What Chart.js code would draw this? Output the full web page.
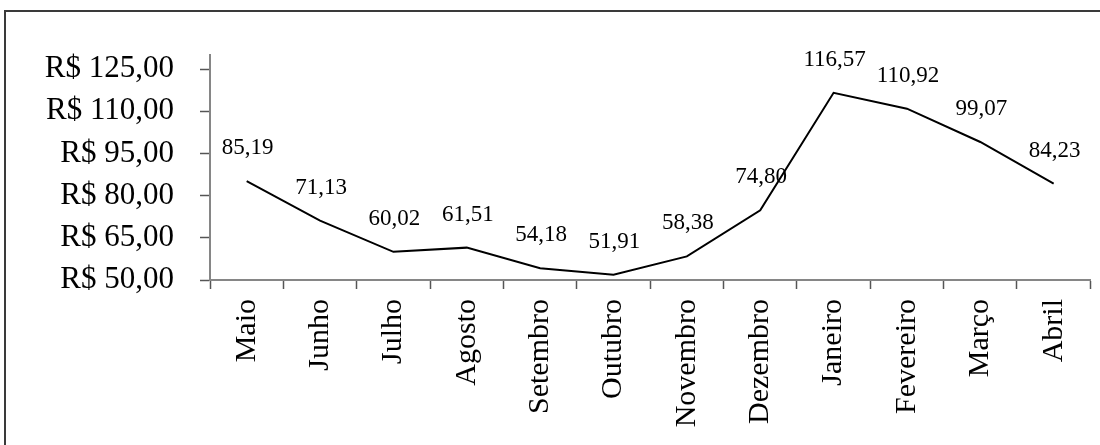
<!DOCTYPE html>
<html lang="pt-BR">
<head>
<meta charset="utf-8">
<title>Preço médio mensal</title>
<script src="https://cdn.jsdelivr.net/npm/chart.js@4.4.1/dist/chart.umd.min.js"></script>
<style>
  html, body { margin: 0; padding: 0; background: #fff; }
  #wrap { width: 1100px; height: 445px; position: relative; overflow: hidden; }
  canvas { display: block; }
</style>
</head>
<body>
<div id="wrap"><canvas id="chart" width="1100" height="445"></canvas></div>
<script>
// Meses do período
const months = ['Maio', 'Junho', 'Julho', 'Agosto', 'Setembro', 'Outubro',
                'Novembro', 'Dezembro', 'Janeiro', 'Fevereiro', 'Março', 'Abril'];
// Preço médio em R$
const prices = [85.19, 71.13, 60.02, 61.51, 54.18, 51.91,
                58.38, 74.80, 116.57, 110.92, 99.07, 84.23];
// Marcas do eixo de valores
const yTicks = [50, 65, 80, 95, 110, 125];
const yMin = 50;
const yMax = 130;

const SERIF = '"Liberation Serif", "Times New Roman", "DejaVu Serif", serif';
const brl = v => v.toFixed(2).replace('.', ',');

// Moldura externa e rótulos de valor sobre cada ponto
const framePlugin = {
  id: 'frame',
  beforeDraw(chart) {
    const ctx = chart.ctx;
    ctx.save();
    ctx.fillStyle = '#ffffff';
    ctx.fillRect(0, 0, chart.width, chart.height);
    ctx.strokeStyle = '#3a3a3a';
    ctx.lineWidth = 2;
    ctx.strokeRect(5, 11, chart.width + 20, chart.height + 20);
    ctx.restore();
  }
};

const valueLabels = {
  id: 'valueLabels',
  afterDatasetsDraw(chart) {
    const ctx = chart.ctx;
    const meta = chart.getDatasetMeta(0);
    const data = chart.data.datasets[0].data;
    ctx.save();
    ctx.font = '23px ' + SERIF;
    ctx.fillStyle = '#000';
    ctx.textAlign = 'center';
    ctx.textBaseline = 'alphabetic';
    meta.data.forEach((pt, i) => {
      ctx.fillText(brl(data[i]), pt.x + 1, pt.y - 27);
    });
    ctx.restore();
  }
};

new Chart(document.getElementById('chart'), {
  type: 'line',
  data: {
    labels: months,
    datasets: [{
      data: prices,
      borderColor: '#000000',
      borderWidth: 2,
      pointRadius: 0,
      pointHoverRadius: 0,
      tension: 0,
      fill: false
    }]
  },
  options: {
    responsive: false,
    animation: false,
    events: [],
    layout: { padding: { top: 55, right: 8, bottom: 0, left: 0 } },
    plugins: {
      legend: { display: false },
      tooltip: { enabled: false },
      title: { display: false }
    },
    scales: {
      x: {
        type: 'category',
        offset: true,
        grid: {
          offset: true,
          drawOnChartArea: false,
          drawTicks: true,
          tickLength: 9,
          tickColor: '#555555',
          tickWidth: 1.5
        },
        border: { display: true, color: '#868686', width: 2 },
        ticks: {
          autoSkip: false,
          minRotation: 90,
          maxRotation: 90,
          padding: 10,
          color: '#000',
          font: { family: SERIF, size: 30 }
        },
        afterFit(scale) { scale.height = 165; }
      },
      y: {
        min: yMin,
        max: yMax,
        grid: {
          drawOnChartArea: false,
          drawTicks: true,
          tickLength: 10,
          tickColor: '#555555',
          tickWidth: 1.5
        },
        border: { display: true, color: '#868686', width: 2 },
        afterBuildTicks(scale) {
          scale.ticks = yTicks.map(v => ({ value: v }));
        },
        ticks: {
          padding: 26,
          color: '#000',
          font: { family: SERIF, size: 31 },
          callback: v => 'R$ ' + brl(v)
        },
        afterFit(scale) { scale.width = 210; }
      }
    }
  },
  plugins: [framePlugin, valueLabels]
});
</script>
</body>
</html>
